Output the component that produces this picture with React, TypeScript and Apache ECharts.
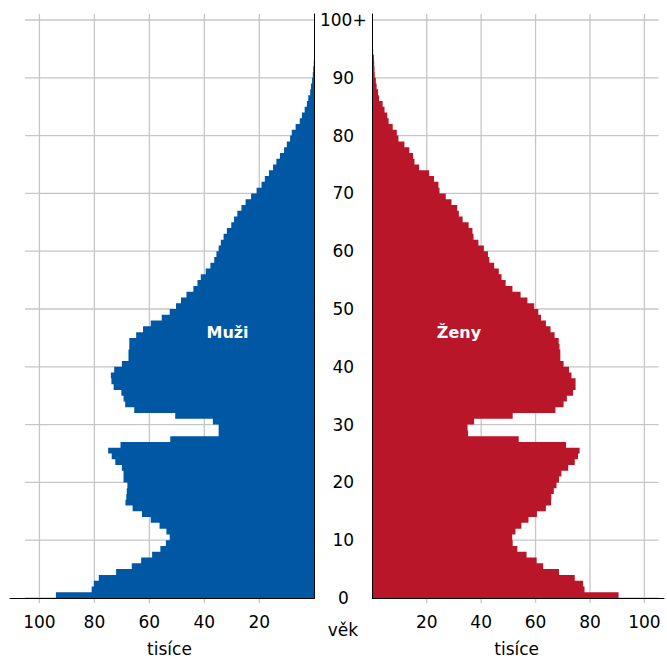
import React, { useEffect, useRef } from "react";
import * as echarts from "echarts";

// Population (thousands) by single year of age; index = age
const maleValues: number[] = [
  94.0, 81.0, 80.2, 78.4, 72.1, 66.4, 63.0, 59.0, 56.0, 54.0,
  52.6, 53.8, 56.3, 59.5, 62.7, 66.1, 68.7, 68.4, 68.2, 68.0,
  69.4, 69.4, 70.0, 72.4, 73.7, 75.0, 70.5, 52.4, 34.8, 34.8,
  36.9, 50.6, 65.5, 68.8, 69.4, 70.2, 73.0, 73.8, 74.0, 72.8,
  70.0, 67.6, 67.6, 67.3, 67.3, 64.8, 62.3, 59.5, 55.5, 52.6,
  50.3, 48.5, 46.5, 44.0, 42.5, 41.3, 39.5, 37.8, 36.4, 35.6,
  34.8, 34.0, 33.0, 31.8, 30.2, 29.2, 28.0, 26.5, 25.0, 23.0,
  21.0, 19.2, 18.0, 16.5, 15.0, 13.8, 12.5, 11.0, 10.0, 8.8,
  8.2, 6.8, 5.3, 4.5, 3.5, 2.7, 2.2, 1.5, 1.2, 0.8,
  0.55, 0.4, 0.2,
];

const femaleValues: number[] = [
  90.5, 78.0, 77.5, 74.4, 68.6, 62.8, 60.4, 56.7, 53.3, 51.6,
  51.4, 52.6, 54.8, 57.4, 60.5, 63.8, 65.7, 65.8, 66.7, 67.7,
  68.6, 69.5, 72.0, 74.4, 75.6, 76.2, 71.2, 53.8, 35.2, 35.0,
  37.4, 51.6, 67.3, 70.3, 71.5, 73.8, 74.7, 74.7, 73.2, 72.3,
  70.3, 69.1, 69.1, 68.8, 68.5, 67.0, 65.5, 63.8, 62.0, 61.0,
  59.5, 57.0, 54.5, 51.5, 49.0, 47.5, 46.5, 44.8, 43.0, 42.5,
  41.0, 39.0, 37.2, 36.8, 35.4, 33.2, 31.8, 31.2, 29.1, 27.0,
  24.7, 24.3, 22.7, 20.9, 17.2, 15.5, 15.0, 13.6, 11.8, 9.6,
  9.0, 7.5, 6.0, 5.5, 4.5, 3.8, 2.5, 2.1, 1.6, 1.3,
  0.9, 0.8, 0.7, 0.6, 0.3,
];

const ageTicks: number[] = [0, 10, 20, 30, 40, 50, 60, 70, 80, 90, 100];
const popTicks: number[] = [20, 40, 60, 80, 100];

const FONT = "'DejaVu Sans', Verdana, sans-serif";
const BLUE = "#0057a4";
const RED = "#ba1629";
const GRID = "#c6c6c6";

const AGE_MAX = 101.04;
const GRID_EXTENT = 105.2;
const TICK_BELOW = -0.87;

// One stepped outline per sex, built from every age's bar through the axes' scales
function pyramidSeries(values: number[], idx: number, color: string) {
  return {
    type: "custom",
    xAxisIndex: idx,
    yAxisIndex: idx,
    z: 2,
    silent: true,
    data: values.map((v, age) => [v, age]),
    encode: { x: 0, y: 1 },
    renderItem: (params: any, api: any) => {
      if (params.dataIndexInside !== 0) return { type: "group", children: [] };
      const n = params.dataInsideLength;
      const pts: number[][] = [api.coord([0, api.value(1, 0)])];
      for (let i = 0; i < n; i++) {
        const v = api.value(0, i);
        const age = api.value(1, i);
        pts.push(api.coord([v, age]));
        pts.push(api.coord([v, age + 1]));
      }
      pts.push(api.coord([0, api.value(1, n - 1) + 1]));
      return { type: "polygon", shape: { points: pts }, style: { fill: color } };
    },
  };
}

function hGridSeries(idx: number) {
  return {
    type: "custom",
    xAxisIndex: idx,
    yAxisIndex: idx,
    z: 1,
    silent: true,
    data: ageTicks.map((a) => [GRID_EXTENT, a]),
    encode: { x: 0, y: 1 },
    renderItem: (_p: any, api: any) => {
      const a = api.value(1);
      const s = api.coord([0, a]);
      const e = api.coord([api.value(0), a]);
      return {
        type: "line",
        shape: { x1: s[0], y1: s[1], x2: e[0], y2: e[1] },
        style: { stroke: GRID, lineWidth: 1.3 },
      };
    },
  };
}

function vGridSeries(idx: number) {
  return {
    type: "custom",
    xAxisIndex: idx,
    yAxisIndex: idx,
    z: 1,
    silent: true,
    data: popTicks.map((v) => [v, AGE_MAX]),
    encode: { x: 0, y: 1 },
    renderItem: (_p: any, api: any) => {
      const v = api.value(0);
      const s = api.coord([v, TICK_BELOW]);
      const e = api.coord([v, api.value(1)]);
      return {
        type: "line",
        shape: { x1: s[0], y1: s[1], x2: e[0], y2: e[1] },
        style: { stroke: GRID, lineWidth: 1.3 },
      };
    },
  };
}

const fmtPop = (v: number) => (v > 0 && v <= 100 && v % 20 === 0 ? String(v) : "");
const fmtAge = (v: number) =>
  v === 100 ? "100+" : v >= 0 && v < 100 && v % 10 === 0 ? String(v) : "";

export default function App() {
  const ref = useRef<HTMLDivElement>(null);

  useEffect(() => {
    document.body.style.margin = "0";
    if (!ref.current) return;
    const chart = echarts.init(ref.current, undefined, { renderer: "svg" });
    const axisLine = { show: true, onZero: false, lineStyle: { color: "#000", width: 1 } };
    const labelStyle = { fontFamily: FONT, fontSize: 17, color: "#000" };
    chart.setOption({
      animation: false,
      backgroundColor: "#fff",
      grid: [
        { left: 10, width: 304.3, top: 14, height: 584 },
        { left: 372.3, right: 0, top: 14, height: 584 },
      ],
      xAxis: [
        {
          gridIndex: 0, type: "value", inverse: true, min: 0, max: 110.7, interval: 20,
          axisLine, axisTick: { show: false }, splitLine: { show: false },
          axisLabel: { ...labelStyle, formatter: fmtPop, margin: 15 }, z: 3,
        },
        {
          gridIndex: 1, type: "value", min: 0, max: 107.2, interval: 20,
          axisLine, axisTick: { show: false }, splitLine: { show: false },
          axisLabel: { ...labelStyle, formatter: fmtPop, margin: 15 }, z: 3,
        },
      ],
      yAxis: [
        {
          gridIndex: 0, type: "value", min: 0, max: AGE_MAX, interval: 10, position: "right",
          axisLine, axisTick: { show: false }, splitLine: { show: false },
          axisLabel: { show: false }, z: 3,
        },
        {
          gridIndex: 1, type: "value", min: 0, max: AGE_MAX, interval: 10, position: "left",
          axisLine, axisTick: { show: false }, splitLine: { show: false },
          axisLabel: { ...labelStyle, formatter: fmtAge, align: "center", margin: 29, padding: [0, 0, 4, 0] }, z: 3,
        },
      ],
      series: [
        hGridSeries(0), vGridSeries(0), pyramidSeries(maleValues, 0, BLUE),
        hGridSeries(1), vGridSeries(1), pyramidSeries(femaleValues, 1, RED),
      ],
      graphic: [
        { type: "text", x: 227.5, y: 332, z: 10, style: { text: "Muži", fill: "#fff", fontFamily: FONT, fontSize: 16, fontWeight: "bold", align: "center", verticalAlign: "middle" } },
        { type: "text", x: 459, y: 332, z: 10, style: { text: "Ženy", fill: "#fff", fontFamily: FONT, fontSize: 16, fontWeight: "bold", align: "center", verticalAlign: "middle" } },
        { type: "text", x: 169.5, y: 649, style: { text: "tisíce", fill: "#000", fontFamily: FONT, fontSize: 17, align: "center", verticalAlign: "middle" } },
        { type: "text", x: 516.7, y: 649, style: { text: "tisíce", fill: "#000", fontFamily: FONT, fontSize: 17, align: "center", verticalAlign: "middle" } },
        { type: "text", x: 343, y: 630, style: { text: "věk", fill: "#000", fontFamily: FONT, fontSize: 17, align: "center", verticalAlign: "middle" } },
      ],
    });
    return () => chart.dispose();
  }, []);

  return <div ref={ref} style={{ width: 667, height: 661 }} />;
}
